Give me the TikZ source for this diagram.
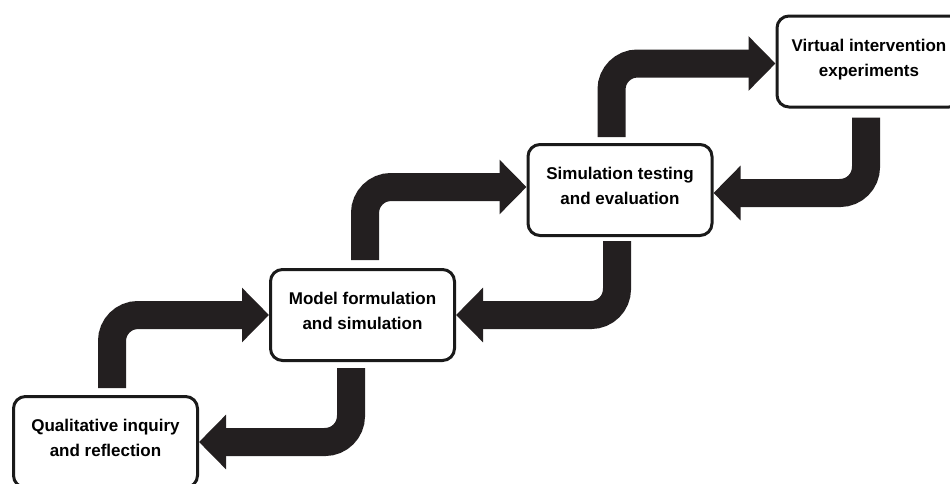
\documentclass[tikz,border=0pt]{standalone}
\usepackage{fontspec}
\setmainfont{Liberation Sans}
\usetikzlibrary{arrows.meta}
\definecolor{ink}{HTML}{231F20}
\definecolor{rim}{HTML}{1A1A1A}
\begin{document}
\begin{tikzpicture}[x=1pt,y=-1pt,
  stage/.style={draw=rim, line width=3pt, rounded corners=12pt, fill=white,
    minimum width=184pt, minimum height=91pt, align=center, text depth=8pt,
    font=\fontsize{17}{25}\selectfont\bfseries, text=black},
  flow/.style={draw=ink, line width=28pt, rounded corners=26pt,
    -{Triangle[width=53pt,length=27pt]}}]
\useasboundingbox (0,0) rectangle (950,483);
\clip (0,0) rectangle (950,483);

% the four stages
\node[stage] (q) at (105.5,442) {Qualitative inquiry\\and reflection};
\node[stage] (m) at (362.5,315) {Model formulation\\and simulation};
\node[stage] (s) at (620,190) {Simulation testing\\and evaluation};
\node[stage] (v) at (869,61.5) {Virtual intervention\\experiments};

% forward steps (up and to the right)
\draw[flow] ([xshift=6.5pt,yshift=7pt]q.north) |- (m.west);
\draw[flow] ([xshift=2.5pt,yshift=8pt]m.north) |- ([yshift=3pt]s.west);
\draw[flow] ([xshift=-8.5pt,yshift=6pt]s.north) |- ([yshift=-2pt]v.west);

% feedback steps (down and to the left)
\draw[flow] ([xshift=-11.5pt,yshift=-6pt]m.south) |- (q.east);
\draw[flow] ([xshift=-3pt,yshift=-4pt]s.south) |- (m.east);
\draw[flow] ([xshift=-3pt,yshift=-9pt]v.south) |- ([yshift=-3pt]s.east);
\end{tikzpicture}
\end{document}
